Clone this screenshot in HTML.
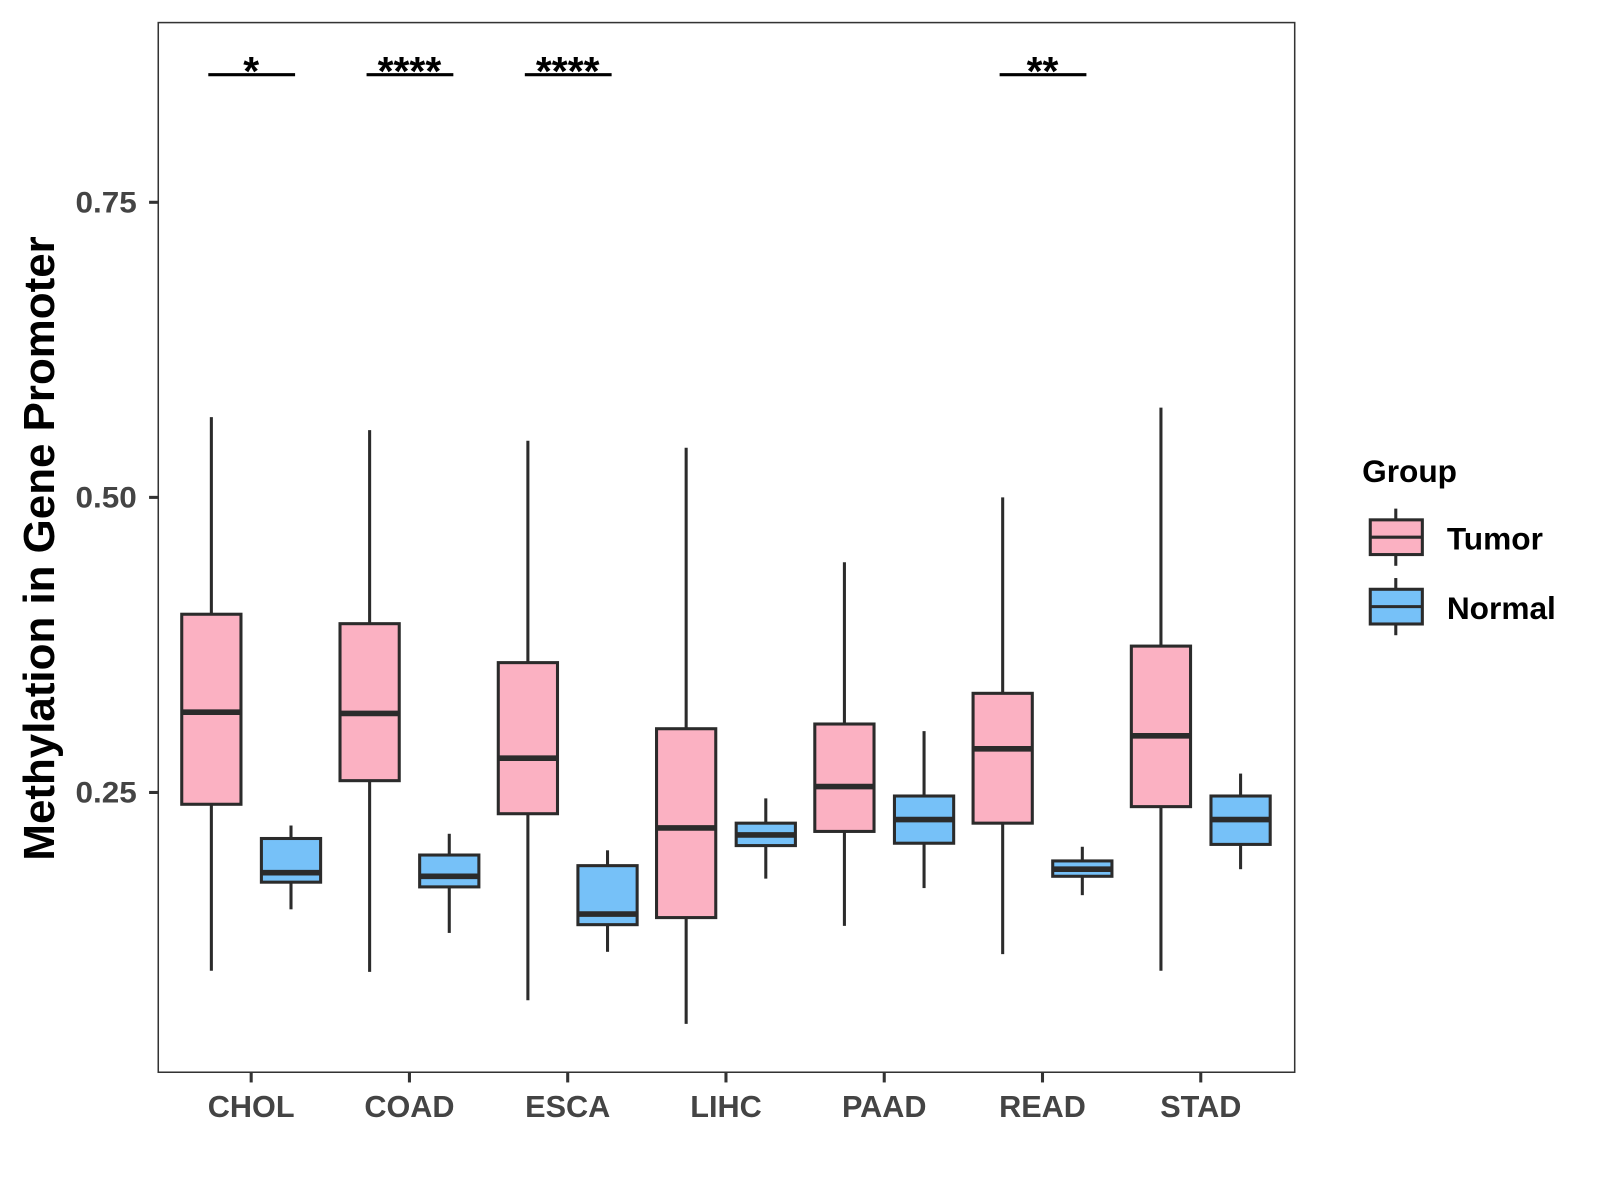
<!DOCTYPE html>
<html><head><meta charset="utf-8"><style>
html,body{margin:0;padding:0;background:#fff;}
svg{display:block;font-family:"Liberation Sans",Arial,sans-serif;}
</style></head><body>
<svg id="chart" width="1600" height="1200" viewBox="0 0 1567 1175" xmlns="http://www.w3.org/2000/svg"></svg>
<script>
const categories = ["CHOL","COAD","ESCA","LIHC","PAAD","READ","STAD"];
// [lowerWhisker, Q1, median, Q3, upperWhisker]
const tumorStats = [
  [0.099,0.240,0.318,0.401,0.568],
  [0.098,0.260,0.317,0.393,0.557],
  [0.074,0.232,0.279,0.360,0.548],
  [0.054,0.144,0.220,0.304,0.542],
  [0.137,0.217,0.255,0.308,0.445],
  [0.113,0.224,0.287,0.334,0.500],
  [0.099,0.238,0.298,0.374,0.576]
];
const normalStats = [
  [0.151,0.174,0.182,0.211,0.222],
  [0.131,0.170,0.179,0.197,0.215],
  [0.115,0.138,0.147,0.188,0.201],
  [0.177,0.205,0.214,0.224,0.245],
  [0.169,0.207,0.227,0.247,0.302],
  [0.163,0.179,0.185,0.192,0.204],
  [0.185,0.206,0.227,0.247,0.266]
];
const yTicks = [0.25,0.50,0.75];
const yTickLabels = ["0.25","0.50","0.75"];
const sigLabels = ["*","****","****","","","**",""];

const NS="http://www.w3.org/2000/svg";
const svg=document.getElementById('chart');
const P={l:155,r:1268,t:22,b:1050};
function y(v){return 487-(v-0.5)*1156;}
function x(i){return 246+i*155;}
function el(tag,attrs,parent){const e=document.createElementNS(NS,tag);for(const k in attrs)e.setAttribute(k,attrs[k]);(parent||svg).appendChild(e);return e;}

const frame=el('rect',{x:P.l,y:P.t,width:P.r-P.l,height:P.b-P.t,fill:'none',stroke:'#333','stroke-width':1.5});



yTicks.forEach((v,i)=>{
  const t=el('line',{x1:P.l-9,x2:P.l,y1:y(v),y2:y(v),stroke:'#333','stroke-width':3});
  
  
  const lb=el('text',{x:P.l-21,y:y(v)+10,'text-anchor':'end','font-size':29,'font-weight':'bold',fill:'#444',textLength:60,lengthAdjust:'spacingAndGlyphs'});
  lb.textContent=yTickLabels[i];
  
  
});
categories.forEach((c,i)=>{
  const t=el('line',{x1:x(i),x2:x(i),y1:P.b,y2:P.b+10,stroke:'#333','stroke-width':3});
  
  
  const lb=el('text',{x:x(i),y:P.b+44,'text-anchor':'middle','font-size':30,'font-weight':'bold',fill:'#444'});
  lb.textContent=c;
  
  
});

function box(cx,s,fill,name){
  const g=el('g',{});
  
  
  const w=58;
  el('line',{x1:cx,x2:cx,y1:y(s[4]),y2:y(s[3]),stroke:'#2b2b2b','stroke-width':3},g);
  el('line',{x1:cx,x2:cx,y1:y(s[1]),y2:y(s[0]),stroke:'#2b2b2b','stroke-width':3},g);
  el('rect',{x:cx-w/2,y:y(s[3]),width:w,height:y(s[1])-y(s[3]),fill:fill,stroke:'#2b2b2b','stroke-width':3},g);
  el('line',{x1:cx-w/2,x2:cx+w/2,y1:y(s[2]),y2:y(s[2]),stroke:'#2b2b2b','stroke-width':5.5},g);
}
categories.forEach((c,i)=>{
  box(x(i)-39,tumorStats[i],'#FBB1C2','tumor-box-'+c.toLowerCase());
  box(x(i)+39,normalStats[i],'#76C1F8','normal-box-'+c.toLowerCase());
  if(sigLabels[i]){
    const l=el('line',{x1:x(i)-42,x2:x(i)+43,y1:73,y2:73,stroke:'#000','stroke-width':3});
    
    
    const t=el('text',{x:x(i),y:83,'text-anchor':'middle','font-size':40,'font-weight':'bold',fill:'#000'});
    t.textContent=sigLabels[i];
    
    
  }
});

const yt=el('text',{x:0,y:0,transform:'translate(53,537) rotate(-90)','text-anchor':'middle','font-size':43,'font-weight':'bold',fill:'#000'});
yt.textContent='Methylation in Gene Promoter';



const lg=el('g',{});


const lt=el('text',{x:1334,y:472,'font-size':31,'font-weight':'bold',fill:'#000'},lg);
lt.textContent='Group';


[['Tumor','#FBB1C2',509],['Normal','#76C1F8',577]].forEach(([n,f,ty])=>{
  const g=el('g',{},lg);
  
  
  el('line',{x1:1367,x2:1367,y1:ty-11,y2:ty+45,stroke:'#2b2b2b','stroke-width':3},g);
  el('rect',{x:1342,y:ty,width:51,height:34,fill:f,stroke:'#2b2b2b','stroke-width':3},g);
  el('line',{x1:1342,x2:1393,y1:ty+17,y2:ty+17,stroke:'#2b2b2b','stroke-width':3},g);
  const t=el('text',{x:1417,y:ty+29,'font-size':31,'font-weight':'bold',fill:'#000'},g);
  t.textContent=n;
});
</script>
</body></html>
